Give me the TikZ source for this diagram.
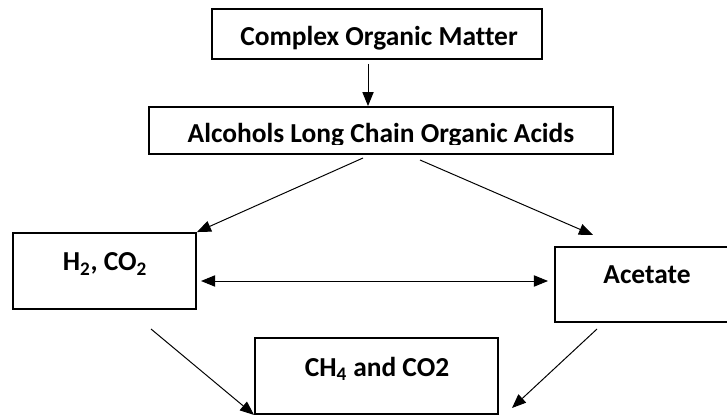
\documentclass[tikz,border=0pt]{standalone}
\usepackage{fontspec}
\setmainfont{Carlito}[Ligatures=NoCommon]
\usetikzlibrary{arrows.meta}
\tikzset{>/.tip={Triangle[length=10pt,width=8pt]}}
\tikzset{blk/.style={draw, line width=1.3pt, inner sep=0pt},
         lbl/.style={anchor=base, font=\fontsize{19.5}{22}\selectfont\bfseries},
         link/.style={line width=0.7pt}}

\begin{document}
\begin{tikzpicture}[x=0.025cm, y=-0.025cm]
\clip (0,0) rectangle (727,418);
\node[blk, minimum width=8.25cm, minimum height=1.25cm] (com) at (377,34) {};
\node[blk, minimum width=11.6cm, minimum height=1.175cm] (alc) at (381,130.5) {};
\node[blk, minimum width=4.575cm, minimum height=1.9cm] (hco) at (104.5,271) {};
\node[blk, minimum width=4.625cm, minimum height=1.875cm] (ace) at (647.5,284.5) {};
\node[blk, minimum width=6.075cm, minimum height=1.9cm] (met) at (376.5,376) {};
\node[lbl] (tcom) at (379,46) {Complex Organic Matter};
\begin{scope}
\clip (149,107) rectangle (613,145);
\node[lbl] (talc) at (381,143) {Alcohols Long Chain Organic Acids};
\end{scope}
\node[lbl] (thco) at (105,271) {H\textsubscript{2}, CO\textsubscript{2}};
\node[lbl] (tace) at (647,283) {Acetate};
\node[lbl] (tmet) at (377,376) {CH\textsubscript{4} and CO2};
\coordinate (s1) at (368,64);
\coordinate (s2) at (363,158);
\coordinate (s3) at (420,160);
\coordinate (e3) at (593,235);
\coordinate (dl) at (201,281);
\coordinate (dr) at (548,281);
\coordinate (s5) at (151,329);
\coordinate (s6) at (597,329);
\coordinate (e6) at (512,408);
\draw[link,->] (s1) to (s1 |- alc.north);
\draw[link,->] (s2) to (hco.north east);
\draw[link,->] (s3) to (e3);
\draw[link,<->] (dl) to (dr);
\draw[link,->] (s5) to (met.south west);
\draw[link,->] (s6) to (e6);
\end{tikzpicture}
\end{document}
